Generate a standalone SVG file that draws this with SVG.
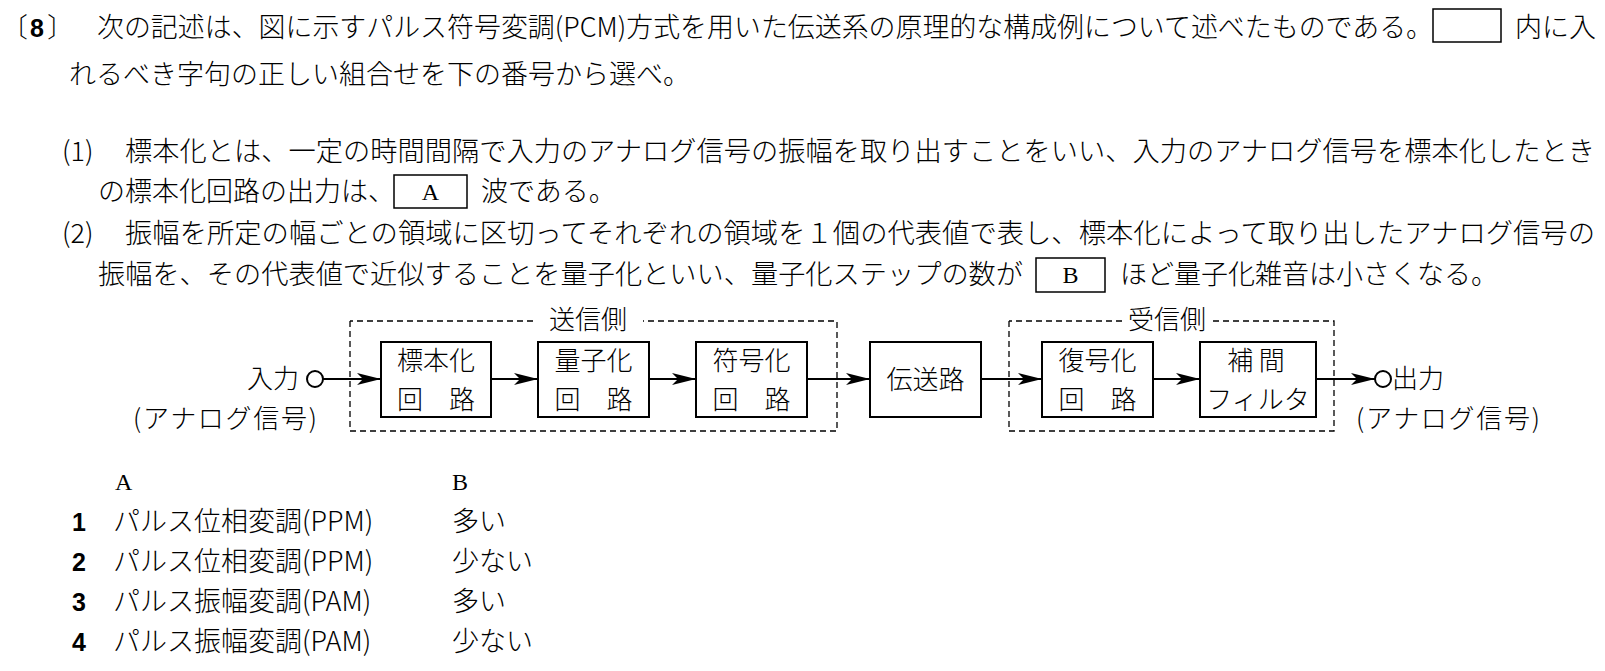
<svg xmlns="http://www.w3.org/2000/svg" width="1605" height="671" viewBox="0 0 1605 671">
<defs>
<style>
text{font-family:"Noto Sans CJK JP","Noto Sans CJK SC",sans-serif;fill:#000;font-weight:300;}
.t{font-size:27px;}
.bx{font-size:26px;text-anchor:middle;}
.lab{font-size:26px;}
.box{fill:#fff;stroke:#000;stroke-width:2;}
.blank{fill:#fff;stroke:#000;stroke-width:1.5;}
.dash{fill:none;stroke:#000;stroke-width:1.3;stroke-dasharray:6,4;}
.conn{stroke:#000;stroke-width:2.2;fill:none;}
.num{font-family:"Liberation Sans",sans-serif;font-weight:bold;font-size:25px;}
.lat{font-family:"Liberation Serif",serif;font-size:24px;font-weight:normal;}
</style>
<marker id="ah" viewBox="0 0 24 14" refX="24" refY="7" markerWidth="24" markerHeight="14" markerUnits="userSpaceOnUse" orient="auto">
<path d="M0,1 L24,7 L0,13 L6,7 Z" fill="#000"/>
</marker>
</defs>

<g id="question">
<text class="t" x="1" y="37">〔</text>
<text class="num" x="30" y="37">8</text>
<text class="t" x="47" y="37">〕</text>
<text class="t" x="97" y="37" textLength="1336" lengthAdjust="spacingAndGlyphs">次の記述は、図に示すパルス符号変調(PCM)方式を用いた伝送系の原理的な構成例について述べたものである。</text>
<rect class="blank" x="1433" y="9" width="68" height="33"/>
<text class="t" x="1515" y="37">内に入</text>
<text class="t" x="69" y="84">れるべき字句の正しい組合せを下の番号から選べ。</text>

<text class="t" x="62" y="161">(1)</text>
<text class="t" x="125" y="161" textLength="1470" lengthAdjust="spacingAndGlyphs">標本化とは、一定の時間間隔で入力のアナログ信号の振幅を取り出すことをいい、入力のアナログ信号を標本化したとき</text>
<text class="t" x="98" y="201">の標本化回路の出力は、</text>
<rect class="blank" x="394" y="175" width="73" height="33"/>
<text class="lat" x="430.5" y="200" text-anchor="middle">A</text>
<text class="t" x="481" y="201">波である。</text>

<text class="t" x="62" y="243">(2)</text>
<text class="t" x="125" y="243" textLength="1470" lengthAdjust="spacingAndGlyphs">振幅を所定の幅ごとの領域に区切ってそれぞれの領域を１個の代表値で表し、標本化によって取り出したアナログ信号の</text>
<text class="t" x="98" y="284" textLength="925" lengthAdjust="spacingAndGlyphs">振幅を、その代表値で近似することを量子化といい、量子化ステップの数が</text>
<rect class="blank" x="1036" y="258" width="69" height="34"/>
<text class="lat" x="1070.5" y="283" text-anchor="middle">B</text>
<text class="t" x="1120" y="284">ほど量子化雑音は小さくなる。</text>
</g>

<g id="groups">
<path class="dash" d="M350,321 V431 H837 V321 H643 M533,321 H350"/>
<text id="send-label" class="lab" x="588" y="329" text-anchor="middle">送信側</text>
<path class="dash" d="M1009,321 V431 H1334 V321 H1212 M1122,321 H1009"/>
<text id="recv-label" class="lab" x="1167" y="329" text-anchor="middle">受信側</text>
</g>

<g id="connectors">
<line class="conn" x1="323" y1="379" x2="381" y2="379" marker-end="url(#ah)"/>
<line class="conn" x1="491" y1="379" x2="538" y2="379" marker-end="url(#ah)"/>
<line class="conn" x1="649" y1="379" x2="696" y2="379" marker-end="url(#ah)"/>
<line class="conn" x1="807" y1="379" x2="870" y2="379" marker-end="url(#ah)"/>
<line class="conn" x1="981" y1="379" x2="1042" y2="379" marker-end="url(#ah)"/>
<line class="conn" x1="1153" y1="379" x2="1200" y2="379" marker-end="url(#ah)"/>
<line class="conn" x1="1316" y1="379" x2="1375" y2="379" marker-end="url(#ah)"/>
</g>

<g id="input">
<circle cx="315" cy="379" r="8" fill="#fff" stroke="#000" stroke-width="2"/>
<text class="lab" x="299" y="388" text-anchor="end">入力</text>
<text class="lab" x="133" y="428" textLength="184" lengthAdjust="spacing">(アナログ信号)</text>
</g>

<g id="sampling">
<rect class="box" x="381" y="342" width="110" height="75"/>
<text class="bx" x="436" y="370">標本化</text>
<text class="bx" x="436" y="409">回　路</text>
</g>
<g id="quantize">
<rect class="box" x="538" y="342" width="111" height="75"/>
<text class="bx" x="593.5" y="370">量子化</text>
<text class="bx" x="593.5" y="409">回　路</text>
</g>
<g id="encode">
<rect class="box" x="696" y="342" width="111" height="75"/>
<text class="bx" x="751.5" y="370">符号化</text>
<text class="bx" x="751.5" y="409">回　路</text>
</g>
<g id="channel">
<rect class="box" x="870" y="342" width="111" height="75"/>
<text class="bx" x="925.5" y="389">伝送路</text>
</g>
<g id="decode">
<rect class="box" x="1042" y="342" width="111" height="75"/>
<text class="bx" x="1097.5" y="370">復号化</text>
<text class="bx" x="1097.5" y="409">回　路</text>
</g>
<g id="filter">
<rect class="box" x="1200" y="342" width="116" height="75"/>
<text class="bx" x="1256" y="370">補 間</text>
<text class="bx" x="1258" y="409">フィルタ</text>
</g>

<g id="output">
<circle cx="1383" cy="379" r="8" fill="#fff" stroke="#000" stroke-width="2"/>
<text class="lab" x="1392" y="388">出力</text>
<text class="lab" x="1356" y="428" textLength="184" lengthAdjust="spacing">(アナログ信号)</text>
</g>

<g id="answers">
<text class="lat" x="115" y="490">A</text>
<text class="lat" x="452" y="490">B</text>
<text class="num" x="72" y="531">1</text>
<text class="t" x="113" y="531">パルス位相変調(PPM)</text>
<text class="t" x="452" y="531">多い</text>
<text class="num" x="72" y="571">2</text>
<text class="t" x="113" y="571">パルス位相変調(PPM)</text>
<text class="t" x="452" y="571">少ない</text>
<text class="num" x="72" y="611">3</text>
<text class="t" x="113" y="611">パルス振幅変調(PAM)</text>
<text class="t" x="452" y="611">多い</text>
<text class="num" x="72" y="651">4</text>
<text class="t" x="113" y="651">パルス振幅変調(PAM)</text>
<text class="t" x="452" y="651">少ない</text>
</g>
</svg>
